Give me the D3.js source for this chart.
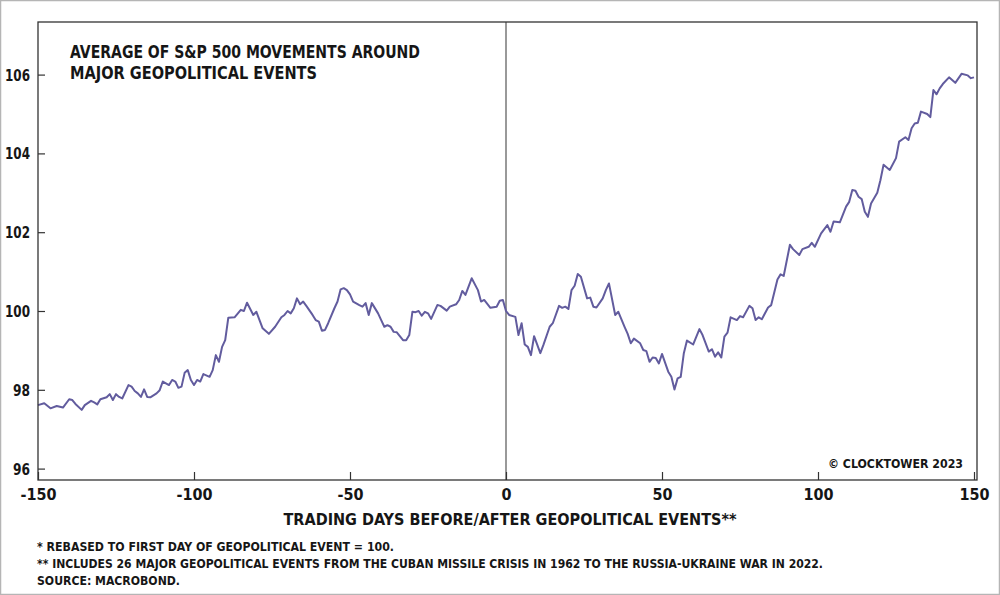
<!DOCTYPE html>
<html><head><meta charset="utf-8">
<script src="https://cdn.jsdelivr.net/npm/d3@7"></script>
<style>
html,body{margin:0;padding:0;background:#fff;}
svg text{font-family:"Liberation Sans Narrow","DejaVu Sans Condensed","Roboto",sans-serif;font-weight:700;fill:#161616;}
</style></head>
<body>
<svg id="c" width="1000" height="595"></svg>
<script>
const days = [-150,-148,-146,-144,-143,-142,-140,-139,-138,-136,-135,-133,-132,-131,-130,-128,-127,-126,-125,-124,-123,-121,-120,-119,-118,-117,-116,-115,-114,-112,-111,-110,-108,-107,-106,-105,-104,-103,-102,-101,-100,-99,-98,-97,-95,-94,-93,-92,-91,-90,-89,-87,-85,-84,-83,-81,-80,-78,-76,-74,-72,-71,-70,-69,-68,-67,-66,-65,-64,-62,-61,-60,-59,-58,-57,-55,-54,-53,-52,-51,-50,-49,-47,-46,-45,-44,-43,-41,-40,-39,-38,-37,-36,-35,-33,-32,-31,-30,-29,-28,-27,-26,-25,-24,-22,-21,-19,-18,-16,-15,-14,-13,-11,-9,-8,-7,-5,-3,-2,-1,0,1,3,4,5,6,7,8,9,11,12,14,15,17,18,19,20,21,22,23,24,26,27,28,29,31,32,33,35,36,38,39,40,41,43,44,45,46,47,48,49,50,52,53,54,55,56,57,58,60,62,63,65,66,67,68,69,70,71,72,74,75,76,78,79,80,81,82,84,85,87,88,89,91,92,94,95,97,98,99,101,103,104,105,107,109,110,111,112,113,114,115,116,117,119,120,121,123,125,126,128,129,130,131,132,133,135,136,137,138,139,140,142,144,146,148,149,150];
const values = [97.61,97.66,97.53,97.59,97.57,97.55,97.76,97.74,97.64,97.49,97.61,97.72,97.68,97.63,97.76,97.81,97.89,97.74,97.89,97.82,97.78,98.12,98.08,97.97,97.91,97.82,98.01,97.82,97.81,97.91,97.99,98.21,98.12,98.25,98.21,98.05,98.08,98.43,98.50,98.25,98.12,98.25,98.21,98.40,98.33,98.50,98.88,98.71,99.09,99.26,99.83,99.84,100.03,100.00,100.21,99.90,99.98,99.56,99.42,99.60,99.84,99.90,100.00,99.94,100.07,100.32,100.17,100.24,100.13,99.90,99.77,99.73,99.50,99.52,99.69,100.07,100.24,100.55,100.58,100.53,100.42,100.24,100.15,100.11,100.20,99.90,100.20,99.94,99.77,99.60,99.64,99.60,99.47,99.46,99.26,99.26,99.39,99.98,99.97,100.00,99.88,99.98,99.94,99.80,100.15,100.13,100.01,100.11,100.17,100.28,100.51,100.41,100.83,100.53,100.24,100.28,100.08,100.11,100.26,100.28,100.00,99.90,99.85,99.39,99.69,99.15,99.09,98.88,99.36,98.93,99.14,99.60,99.69,100.13,100.08,100.11,100.05,100.53,100.64,100.94,100.87,100.32,100.34,100.11,100.09,100.32,100.53,100.70,99.90,99.98,99.60,99.42,99.18,99.30,99.18,99.01,98.98,98.71,98.82,98.81,98.67,98.91,98.46,98.33,98.01,98.29,98.33,98.93,99.25,99.15,99.54,99.39,98.97,99.03,98.84,98.95,98.82,99.35,99.45,99.84,99.77,99.87,99.84,100.13,100.07,99.77,99.84,99.79,100.09,100.15,100.80,100.93,100.89,101.68,101.57,101.42,101.57,101.63,101.73,101.63,101.97,102.18,102.01,102.27,102.25,102.65,102.77,103.07,103.05,102.90,102.84,102.52,102.39,102.73,103.00,103.32,103.71,103.58,103.88,104.30,104.41,104.34,104.64,104.76,104.78,105.06,105.00,104.92,105.61,105.50,105.65,105.76,105.93,105.79,106.02,105.98,105.91,105.93];
const xTicks = [-150,-100,-50,0,50,100,150];
const yTicks = [96,98,100,102,104,106];
const titleLines = ["AVERAGE OF S&P 500 MOVEMENTS AROUND","MAJOR GEOPOLITICAL EVENTS"];
const xAxisTitle = "TRADING DAYS BEFORE/AFTER GEOPOLITICAL EVENTS**";
const footnotes = ["*  REBASED TO FIRST DAY OF GEOPOLITICAL EVENT = 100.","** INCLUDES 26 MAJOR GEOPOLITICAL EVENTS FROM THE CUBAN MISSILE CRISIS IN 1962 TO THE RUSSIA-UKRAINE WAR IN 2022.","SOURCE: MACROBOND."];
const credit = "© CLOCKTOWER 2023";

const svg = d3.select("#c");
const L=38, R=977, T=22, B=480;
const x = d3.scaleLinear().domain([-150,150]).range([38,974]);
const y = d3.scaleLinear().domain([96,106]).range([468.6,74.6]);

// outer border
svg.append("rect").attr("x",0.5).attr("y",0.5).attr("width",999).attr("height",594)
  .attr("fill","none").attr("stroke","#b5b5b5").attr("stroke-width",1.5);

// event line at 0
svg.append("line").attr("x1",x(0)).attr("x2",x(0)).attr("y1",T).attr("y2",B)
  .attr("stroke","#555").attr("stroke-width",1.2);

// series
const data = days.map((d,i)=>({d, v:values[i]}));
svg.append("path").datum(data)
  .attr("fill","none").attr("stroke","#625c9e").attr("stroke-width",2)
  .attr("stroke-linejoin","round")
  .attr("d", d3.line().x(p=>x(p.d)).y(p=>y(p.v)));

// frame
svg.append("rect").attr("x",L).attr("y",T).attr("width",R-L).attr("height",B-T)
  .attr("fill","none").attr("stroke","#333").attr("stroke-width",1.3);

// y axis
const ya = svg.append("g").attr("transform",`translate(${L},0)`)
  .call(d3.axisRight(y).tickValues(yTicks).tickSize(7).tickFormat(d=>String(d)));
ya.select(".domain").remove();
ya.selectAll(".tick line").attr("stroke","#333").attr("stroke-width",1.2);
ya.selectAll(".tick text").attr("x",-8).attr("text-anchor","end").attr("dy","0.34em")
  .style("font-size","16px").attr("textLength",25).attr("lengthAdjust","spacingAndGlyphs")
  .filter(d=>d<100).attr("textLength",17);

// x axis
const xa = svg.append("g").attr("transform",`translate(0,${B})`)
  .call(d3.axisTop(x).tickValues(xTicks).tickSize(8).tickFormat(d=>String(d)));
xa.select(".domain").remove();
xa.selectAll(".tick line").attr("stroke","#333").attr("stroke-width",1.2);
xa.selectAll(".tick text").attr("y",20).attr("dy",0).style("font-size","16px");

// title
const titleW = [350,247];
svg.selectAll(".title").data(titleLines).enter().append("text")
  .attr("x",70).attr("y",(d,i)=>58+i*21).style("font-size","17px")
  .attr("textLength",(d,i)=>titleW[i]).attr("lengthAdjust","spacingAndGlyphs").text(d=>d);

// x axis title
svg.append("text").attr("x",510).attr("y",525).attr("text-anchor","middle")
  .style("font-size","16px").attr("textLength",453).attr("lengthAdjust","spacingAndGlyphs")
  .text(xAxisTitle);

// footnotes
const fnW = [357,786,143];
svg.selectAll(".fn").data(footnotes).enter().append("text")
  .attr("x",37).attr("y",(d,i)=>551+i*17).style("font-size","13px")
  .attr("textLength",(d,i)=>fnW[i]).attr("lengthAdjust","spacingAndGlyphs").text(d=>d);

// credit
svg.append("text").attr("x",963).attr("y",468).attr("text-anchor","end")
  .style("font-size","13px").attr("textLength",135).attr("lengthAdjust","spacingAndGlyphs")
  .text(credit);
</script>
</body></html>
